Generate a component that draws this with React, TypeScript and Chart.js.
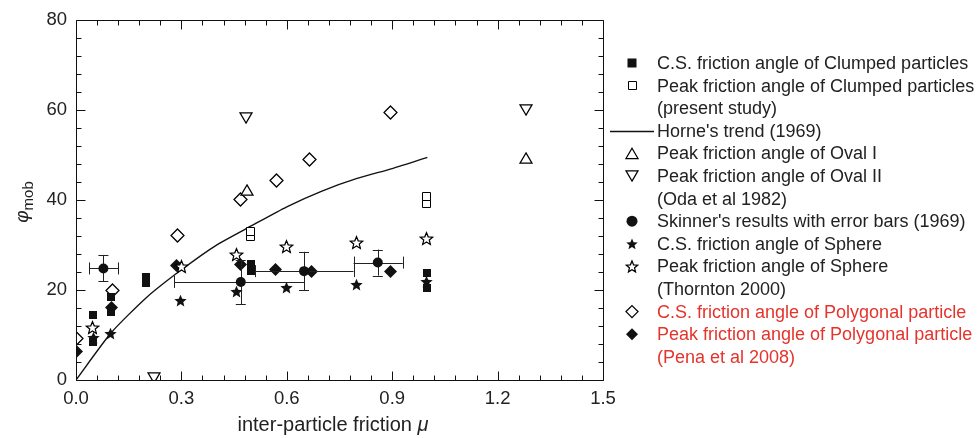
import React, { useEffect, useRef } from "react";
import { Chart, registerables } from "chart.js";

Chart.register(...registerables);

// ---------- data ----------
const clumpedCsX = [0.047, 0.047, 0.099, 0.099, 0.2, 0.2, 0.498, 0.498, 0.998, 0.998];
const clumpedCsY = [14.5, 8.5, 18.5, 15.2, 21.5, 23.0, 24.3, 25.8, 23.7, 20.5];

const clumpedPeakX = [0.498, 0.498, 0.998, 0.998];
const clumpedPeakY = [31.9, 32.9, 39.3, 40.8];

const horneX = [0, 0.1, 0.2, 0.3, 0.4, 0.5, 0.6, 0.7, 0.8, 0.9, 1.0];
const horneY = [0, 10.5, 18.3, 24.5, 30.0, 34.3, 38.5, 42.0, 44.8, 47.0, 49.5];

const ovalIX = [0.486, 1.281];
const ovalIY = [42.2, 49.3];

const ovalIIX = [0.222, 0.484, 1.281];
const ovalIIY = [0.5, 58.2, 60.0];

const skinnerX = [0.078, 0.469, 0.649, 0.859];
const skinnerY = [24.8, 21.8, 24.2, 26.1];
const skinnerXLo = [0.038, 0.28, 0.51, 0.79];
const skinnerXHi = [0.12, 0.65, 0.79, 0.93];
const skinnerYLo = [21.9, 16.8, 19.9, 23.2];
const skinnerYHi = [27.8, 26.7, 28.5, 29.0];

const sphereCsX = [0.05, 0.099, 0.298, 0.457, 0.598, 0.797, 0.998];
const sphereCsY = [9.5, 10.4, 17.6, 19.6, 20.5, 21.3, 21.8];

const spherePeakX = [0.047, 0.3, 0.457, 0.598, 0.797, 0.998];
const spherePeakY = [11.7, 25.3, 28.0, 29.6, 30.5, 31.4];

const polyCsX = [0.0, 0.104, 0.288, 0.469, 0.571, 0.666, 0.896];
const polyCsY = [9.3, 19.9, 32.2, 40.1, 44.4, 49.1, 59.5];

const polyPeakX = [0.0, 0.1, 0.287, 0.467, 0.569, 0.669, 0.896];
const polyPeakY = [6.4, 16.2, 25.4, 25.6, 24.6, 24.2, 24.2];

const xTicks = [0, 0.3, 0.6, 0.9, 1.2, 1.5];
const yTicks = [0, 20, 40, 60, 80];

const legendLabels = [
  "C.S. friction angle of Clumped particles",
  "Peak friction angle of Clumped particles",
  "(present study)",
  "Horne's trend (1969)",
  "Peak friction angle of Oval I",
  "Peak friction angle of Oval II",
  "(Oda et al 1982)",
  "Skinner's results with error bars (1969)",
  "C.S. friction angle of Sphere",
  "Peak friction angle of Sphere",
  "(Thornton 2000)",
  "C.S. friction angle of Polygonal particle",
  "Peak friction angle of Polygonal particle",
  "(Pena et al 2008)",
];
const legendMarkers = [
  "squareF", "squareO", "", "line", "triUp", "triDown", "", "circle",
  "starF", "starO", "", "diamondO", "diamondF", "",
];
const legendRed = [false, false, false, false, false, false, false, false, false, false, false, true, true, true];

// ---------- helpers ----------
const INK = "#111";
const RED = "#e4342c";
const FONT = "'Liberation Sans', Arial, Helvetica, sans-serif";

function drawShape(ctx: CanvasRenderingContext2D, kind: string, cx: number, cy: number, s: number) {
  ctx.save();
  ctx.lineWidth = 1.25;
  ctx.strokeStyle = "#000";
  ctx.fillStyle = INK;
  ctx.beginPath();
  const filled = kind.endsWith("F") || kind === "circle";
  if (kind.startsWith("square")) {
    const h = s / 2;
    if (filled) {
      ctx.rect(cx - h, cy - h, s, s);
    } else {
      ctx.lineWidth = 1;
      ctx.rect(Math.round(cx - h) + 0.5, Math.round(cy - h) + 0.5, s - 1, s - 1);
    }
  } else if (kind === "circle") {
    ctx.arc(cx, cy, s / 2, 0, Math.PI * 2);
  } else if (kind === "triUp" || kind === "triDown") {
    const w = s / 2;
    const h = s * 0.85;
    const d = kind === "triUp" ? 1 : -1;
    ctx.moveTo(cx, cy - (d * h) / 2);
    ctx.lineTo(cx + w, cy + (d * h) / 2);
    ctx.lineTo(cx - w, cy + (d * h) / 2);
    ctx.closePath();
  } else if (kind.startsWith("diamond")) {
    const r = s / 2;
    ctx.moveTo(cx, cy - r);
    ctx.lineTo(cx + r, cy);
    ctx.lineTo(cx, cy + r);
    ctx.lineTo(cx - r, cy);
    ctx.closePath();
  } else if (kind.startsWith("star")) {
    const ro = s / 2;
    const ri = ro * 0.45;
    for (let i = 0; i < 10; i++) {
      const r = i % 2 === 0 ? ro : ri;
      const a = -Math.PI / 2 + (i * Math.PI) / 5;
      const x = cx + r * Math.cos(a);
      const y = cy + r * Math.sin(a) + ro * 0.1;
      if (i === 0) ctx.moveTo(x, y);
      else ctx.lineTo(x, y);
    }
    ctx.closePath();
  }
  if (filled) {
    ctx.fill();
  } else {
    ctx.fillStyle = "#fff";
    ctx.fill();
    ctx.stroke();
  }
  ctx.restore();
}

function markerImage(kind: string, s: number): HTMLCanvasElement {
  const c = document.createElement("canvas");
  const size = Math.ceil(s) + 4;
  c.width = size;
  c.height = size;
  const ctx = c.getContext("2d")!;
  drawShape(ctx, kind, size / 2, size / 2, s);
  return c;
}

function pts(xs: number[], ys: number[]) {
  return xs.map((x, i) => ({ x, y: ys[i] }));
}

export default function App() {
  const ref = useRef<HTMLCanvasElement>(null);

  useEffect(() => {
    const canvas = ref.current!;
    const boxPlugin = {
      id: "boxAndExtras",
      beforeDatasetsDraw(chart: any) {
        chart.ctx.imageSmoothingEnabled = false;
      },
      afterDatasetsDraw(chart: any) {
        const { ctx } = chart;
        const xs = chart.scales.x;
        const ys = chart.scales.y;
        // error bars
        ctx.save();
        ctx.strokeStyle = "#222";
        ctx.lineWidth = 1;
        for (let i = 0; i < skinnerX.length; i++) {
          const px = xs.getPixelForValue(skinnerX[i]);
          const py = ys.getPixelForValue(skinnerY[i]);
          const xl = xs.getPixelForValue(skinnerXLo[i]);
          const xh = xs.getPixelForValue(skinnerXHi[i]);
          const yl = ys.getPixelForValue(skinnerYLo[i]);
          const yh = ys.getPixelForValue(skinnerYHi[i]);
          ctx.beginPath();
          ctx.moveTo(xl, Math.round(py) + 0.5);
          ctx.lineTo(xh, Math.round(py) + 0.5);
          ctx.moveTo(Math.round(xl) + 0.5, py - 6);
          ctx.lineTo(Math.round(xl) + 0.5, py + 6);
          ctx.moveTo(Math.round(xh) + 0.5, py - 6);
          ctx.lineTo(Math.round(xh) + 0.5, py + 6);
          ctx.moveTo(Math.round(px) + 0.5, yl);
          ctx.lineTo(Math.round(px) + 0.5, yh);
          ctx.moveTo(px - 5, Math.round(yl) + 0.5);
          ctx.lineTo(px + 5, Math.round(yl) + 0.5);
          ctx.moveTo(px - 5, Math.round(yh) + 0.5);
          ctx.lineTo(px + 5, Math.round(yh) + 0.5);
          ctx.stroke();
          drawShape(ctx, "circle", px, py, 10);
        }
        ctx.restore();
        ctx.imageSmoothingEnabled = true;
      },
      afterDraw(chart: any) {
        const { ctx, chartArea: a } = chart;
        const xs = chart.scales.x;
        const ys = chart.scales.y;
        ctx.save();
        ctx.strokeStyle = "#111";
        ctx.lineWidth = 1;
        const L = Math.round(a.left) + 0.5;
        const R = Math.round(a.right) + 0.5;
        const T = Math.round(a.top) + 0.5;
        const B = Math.round(a.bottom) + 0.5;
        ctx.beginPath();
        ctx.rect(L, T, R - L, B - T);
        for (let k = 0; k <= 25; k++) {
          const v = k * 0.06;
          const px = Math.round(xs.getPixelForValue(v)) + 0.5;
          const len = k % 5 === 0 ? 9 : 5;
          ctx.moveTo(px, B);
          ctx.lineTo(px, B - len);
          ctx.moveTo(px, T);
          ctx.lineTo(px, T + len);
        }
        for (let k = 0; k <= 20; k++) {
          const v = k * 4;
          const py = Math.round(ys.getPixelForValue(v)) + 0.5;
          const len = k % 5 === 0 ? 9 : 5;
          ctx.moveTo(L, py);
          ctx.lineTo(L + len, py);
          ctx.moveTo(R, py);
          ctx.lineTo(R - len, py);
        }
        ctx.stroke();

        // axis titles
        ctx.fillStyle = "#222";
        ctx.textBaseline = "alphabetic";
        ctx.textAlign = "left";
        ctx.font = `20px ${FONT}`;
        const t1 = "inter-particle friction ";
        const w1 = ctx.measureText(t1).width;
        ctx.font = `italic 20px ${FONT}`;
        const w2 = ctx.measureText("μ").width;
        const cx = 333;
        const sx = cx - (w1 + w2) / 2;
        ctx.font = `20px ${FONT}`;
        ctx.fillText(t1, sx, 431);
        ctx.font = `italic 20px ${FONT}`;
        ctx.fillText("μ", sx + w1, 431);

        ctx.save();
        ctx.translate(28, 202);
        ctx.rotate(-Math.PI / 2);
        ctx.font = `italic 19px ${FONT}`;
        const pw = ctx.measureText("φ").width;
        ctx.font = `15px ${FONT}`;
        const mw = ctx.measureText("mob").width;
        const st = -(pw + mw) / 2;
        ctx.font = `italic 19px ${FONT}`;
        ctx.fillText("φ", st, 0);
        ctx.font = `15px ${FONT}`;
        ctx.fillText("mob", st + pw, 5);
        ctx.restore();

        // legend
        const lx = 632;
        const tx = 657;
        const y0 = 63;
        const dy = 22.6;
        ctx.font = `18px ${FONT}`;
        ctx.textBaseline = "middle";
        for (let i = 0; i < legendLabels.length; i++) {
          const y = y0 + i * dy;
          const m = legendMarkers[i];
          if (m === "line") {
            ctx.beginPath();
            ctx.strokeStyle = "#111";
            ctx.lineWidth = 1.3;
            ctx.moveTo(610, Math.round(y) + 0.5);
            ctx.lineTo(654, Math.round(y) + 0.5);
            ctx.stroke();
          } else if (m) {
            const sz: Record<string, number> = {
              squareF: 9, squareO: 9, triUp: 12, triDown: 12, circle: 11,
              starF: 12, starO: 12, diamondO: 12, diamondF: 12,
            };
            drawShape(ctx, m, lx, y, sz[m]);
          }
          ctx.fillStyle = legendRed[i] ? RED : "#222";
          ctx.fillText(legendLabels[i], tx, y + 1);
        }
        ctx.restore();
      },
    };

    const mk = (label: string, data: any[], img: HTMLCanvasElement) => ({
      type: "scatter" as const,
      label,
      data,
      pointStyle: img,
      pointRadius: 6,
      pointHoverRadius: 6,
      showLine: false,
    });

    const chart = new Chart(canvas, {
      type: "scatter",
      data: {
        datasets: [
          mk("C.S. Clumped", pts(clumpedCsX, clumpedCsY), markerImage("squareF", 8)),
          mk("Peak Clumped", pts(clumpedPeakX, clumpedPeakY), markerImage("squareO", 9)),
          mk("Oval I", pts(ovalIX, ovalIY), markerImage("triUp", 12)),
          mk("Oval II", pts(ovalIIX, ovalIIY), markerImage("triDown", 12)),
          mk("C.S. Sphere", pts(sphereCsX, sphereCsY), markerImage("starF", 13)),
          mk("Peak Sphere", pts(spherePeakX, spherePeakY), markerImage("starO", 13)),
          mk("C.S. Polygonal", pts(polyCsX, polyCsY), markerImage("diamondO", 13)),
          mk("Peak Polygonal", pts(polyPeakX, polyPeakY), markerImage("diamondF", 13)),
          {
            type: "line" as const,
            label: "Horne",
            data: pts(horneX, horneY),
            borderColor: "#111",
            borderWidth: 1.4,
            pointRadius: 0,
            tension: 0.2,
            fill: false,
            order: 10,
          } as any,
        ],
      },
      options: {
        animation: false,
        responsive: false,
        devicePixelRatio: 1,
        layout: { padding: { top: 20, right: 375, left: 0, bottom: 0 } },
        plugins: { legend: { display: false }, tooltip: { enabled: false } },
        scales: {
          x: {
            type: "linear",
            min: 0,
            max: 1.5,
            grid: { display: false, drawTicks: false },
            border: { display: false },
            afterFit: (s: any) => { s.height = 58; },
            afterBuildTicks: (s: any) => { s.ticks = xTicks.map((v) => ({ value: v })); },
            ticks: {
              padding: 8,
              color: "#222",
              font: { size: 18.5, family: FONT },
              maxRotation: 0,
              callback: (v: any) => Number(v).toFixed(1),
            },
          },
          y: {
            type: "linear",
            min: 0,
            max: 80,
            grid: { display: false, drawTicks: false },
            border: { display: false },
            afterFit: (s: any) => { s.width = 76; },
            afterBuildTicks: (s: any) => { s.ticks = yTicks.map((v) => ({ value: v })); },
            ticks: {
              padding: 9,
              color: "#222",
              font: { size: 18.5, family: FONT },
              callback: (v: any) => String(v),
            },
          },
        },
      },
      plugins: [boxPlugin],
    });
    return () => chart.destroy();
  }, []);

  return (
    <div style={{ position: "fixed", left: 0, top: 0, width: 978, height: 438, background: "#fff" }}>
      <canvas ref={ref} width={978} height={438} style={{ width: 978, height: 438, display: "block" }} />
    </div>
  );
}
